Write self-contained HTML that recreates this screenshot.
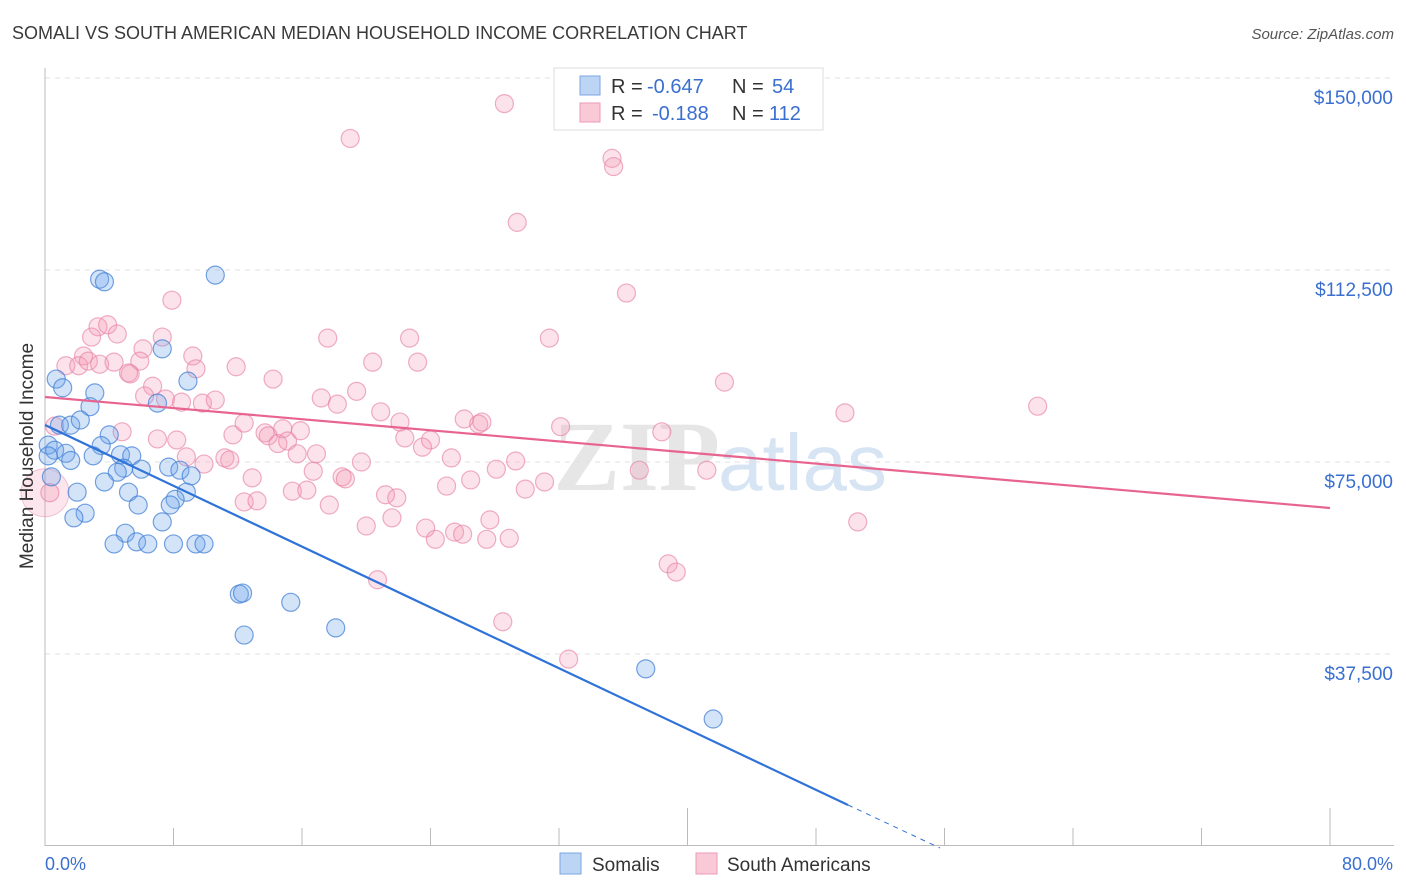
<!DOCTYPE html>
<html><head><meta charset="utf-8"><style>
body{margin:0;background:#fff;font-family:"Liberation Sans",sans-serif;}
#wrap{position:relative;width:1406px;height:892px;overflow:hidden;}
</style></head><body>
<div id="wrap">
<svg id="svg" width="1406" height="892" xmlns="http://www.w3.org/2000/svg">
<text x="12" y="39" font-size="18" fill="#3a3a3a">SOMALI VS SOUTH AMERICAN MEDIAN HOUSEHOLD INCOME CORRELATION CHART</text>
<text x="1394" y="39" font-size="15" fill="#555" font-style="italic" text-anchor="end">Source: ZipAtlas.com</text>
<text x="720" y="490" font-size="100" fill="#e6e6e6" text-anchor="end" font-family="Liberation Serif" font-weight="bold">ZIP</text>
<text x="718" y="490" font-size="80" fill="#d6e4f4">atlas</text>
<g id="grid"></g><g id="pts"></g><g id="lines"></g>
<text x="33" y="456" font-size="19" fill="#333" text-anchor="middle" transform="rotate(-90 33 456)">Median Household Income</text>
<text x="45" y="870" font-size="18" fill="#3a6fd0">0.0%</text>
<text x="1393" y="870" font-size="18" fill="#3a6fd0" text-anchor="end">80.0%</text>
<g>
<rect x="554" y="68" width="269" height="62" fill="#fff" stroke="#ddd"/>
<rect x="580" y="76" width="20" height="19" fill="#bcd5f5" stroke="#7aa6e0"/>
<rect x="580" y="103" width="20" height="19" fill="#f9c9d8" stroke="#ee9ab8"/>
<text x="611" y="93" font-size="20" fill="#333">R =</text>
<text x="647" y="93" font-size="20" fill="#3a6fd0">-0.647</text>
<text x="732" y="93" font-size="20" fill="#333">N =</text>
<text x="772" y="93" font-size="20" fill="#3a6fd0">54</text>
<text x="611" y="120" font-size="20" fill="#333">R =</text>
<text x="652" y="120" font-size="20" fill="#3a6fd0">-0.188</text>
<text x="732" y="120" font-size="20" fill="#333">N =</text>
<text x="769" y="120" font-size="20" fill="#3a6fd0">112</text>
</g>
<g><rect x="560" y="853" width="21" height="21" fill="#bcd5f5" stroke="#7aa6e0"/><text x="592" y="871" font-size="19" fill="#333">Somalis</text></g>
<g><rect x="696" y="853" width="21" height="21" fill="#f9c9d8" stroke="#ee9ab8"/><text x="727" y="871" font-size="19" fill="#333">South Americans</text></g>
</svg></div>
<script>
const yTicks=[37500,75000,112500,150000];
const yTickLabels=["$37,500","$75,000","$112,500","$150,000"];
const xTicks=[0,8,16,24,32,40,48,56,64,72,80];
const blueX=[3.4,3.7,10.6,7.3,8.9,0.7,1.1,3.1,2.8,7.0,0.9,1.6,2.2,4.0,3.5,0.2,0.6,1.3,1.6,3.0,4.7,5.4,4.9,6.0,7.7,8.4,4.5,3.7,9.1,5.2,8.8,2.0,8.1,7.8,5.8,2.5,1.8,7.3,5.0,4.3,5.7,6.4,8.0,9.4,9.9,12.1,12.3,15.3,12.4,18.1,37.4,41.6,0.4,0.2];
const blueY=[110.7,110.2,111.5,97.1,90.8,91.2,89.5,88.5,85.8,86.5,82.2,82.2,83.2,80.3,78.2,78.3,77.3,76.7,75.3,76.2,76.4,76.2,73.8,73.6,74.0,73.4,73.0,71.1,72.3,69.1,69.1,69.1,67.7,66.6,66.6,65.0,64.1,63.3,61.1,59.0,59.4,59.0,59.0,59.0,59.0,49.2,49.4,47.6,41.2,42.6,34.6,24.8,72.1,76.2];
const pinkX=[28.6,19.0,35.3,35.4,29.4,36.2,7.9,3.3,3.9,4.5,2.9,7.3,6.1,17.6,22.7,31.4,2.4,9.2,1.3,2.1,2.7,3.4,4.3,5.9,9.4,11.9,14.2,20.4,23.2,5.3,42.3,6.7,19.4,5.2,6.2,7.5,8.5,9.8,10.6,17.2,18.2,20.9,26.1,27.0,27.2,22.1,49.8,61.8,4.8,7.0,8.2,11.7,12.4,13.7,13.9,14.5,14.8,15.9,15.1,22.4,24.0,23.5,32.1,38.4,9.9,11.2,11.5,8.8,15.7,16.9,12.9,16.7,18.5,18.7,19.7,25.3,28.1,29.3,37.0,41.2,25.0,26.5,31.1,29.9,12.4,13.2,15.4,16.3,17.7,21.2,21.9,21.6,20.0,23.7,24.3,25.5,26.0,27.7,27.5,28.9,50.6,20.7,38.8,39.3,28.5,32.6,0.3,0.6];
const pinkY=[145.0,138.2,134.3,132.7,121.8,108.0,106.6,101.4,101.8,100.0,99.4,99.4,97.1,99.2,99.2,99.2,95.7,95.7,93.8,93.8,94.7,94.1,94.5,94.7,93.2,93.6,91.2,94.5,94.5,92.2,90.6,89.8,88.8,92.4,87.9,87.3,86.7,86.5,87.1,87.5,86.3,84.8,83.4,82.4,82.8,82.8,84.6,85.9,80.9,79.5,79.3,80.3,82.6,80.7,80.1,78.6,81.5,81.1,79.1,79.7,79.3,77.9,81.9,80.9,74.6,75.8,75.4,76.0,76.6,76.6,71.9,73.2,72.1,71.7,75.0,75.8,73.6,75.2,73.4,73.4,70.3,71.5,71.1,69.7,67.2,67.4,69.3,69.5,66.6,68.6,68.0,64.1,62.5,62.1,59.9,61.3,60.9,63.7,59.9,60.1,63.3,52.0,55.1,53.5,43.8,36.5,69.0,82.0];
const X0=45,X1=1330,Y0=846,PXK=192/37500;
const xs=v=>X0+(v/80)*(X1-X0);
const ys=v=>Y0-v*PXK;
const NS="http://www.w3.org/2000/svg";
function mk(t,a,p){const e=document.createElementNS(NS,t);for(const k in a)e.setAttribute(k,a[k]);p.appendChild(e);return e;}
const grid=document.getElementById('grid'),pts=document.getElementById('pts'),lines=document.getElementById('lines');
yTicks.forEach((t,i)=>{
 const l=mk('line',{x1:45,x2:1394,y1:ys(t),y2:ys(t),stroke:'#e2e2e2','stroke-dasharray':'5,5'},grid);
 
 
 const tx=mk('text',{x:1393,y:ys(t)+26,'font-size':19,fill:'#3a6fd0','text-anchor':'end'},grid);
 tx.textContent=yTickLabels[i];
 
 
});
mk('line',{x1:45,x2:45,y1:68,y2:846,stroke:'#bbb'},grid);
mk('line',{x1:45,x2:1394,y1:845.5,y2:845.5,stroke:'#bbb'},grid);
xTicks.forEach((t,i)=>{
 const long=(t===40||t===80);
 const l=mk('line',{x1:xs(t),x2:xs(t),y1:long?808:828,y2:846,stroke:'#bbb'},grid);
 
 
});
mk('circle',{cx:45,cy:ys(69000),r:24,fill:'rgba(244,150,180,0.25)',stroke:'rgba(232,140,170,0.5)'},pts);
pinkX.forEach((x,i)=>{
 const c=mk('circle',{cx:xs(x),cy:ys(pinkY[i]*1000),r:9,fill:'rgba(244,150,180,0.28)',stroke:'rgba(230,130,165,0.65)','stroke-width':1.2},pts);
 
 
});
blueX.forEach((x,i)=>{
 const c=mk('circle',{cx:xs(x),cy:ys(blueY[i]*1000),r:9,fill:'rgba(110,165,235,0.3)',stroke:'rgba(70,130,215,0.75)','stroke-width':1.2},pts);
 
 
});
const bl=mk('line',{x1:45,y1:425,x2:848,y2:805,stroke:'#2f73d8','stroke-width':2.2},lines);


mk('line',{x1:848,y1:805,x2:940,y2:848,stroke:'#2f73d8','stroke-width':1,'stroke-dasharray':'5,5'},lines);
const pl=mk('line',{x1:45,y1:397,x2:1330,y2:508,stroke:'#e8648f','stroke-width':2.2},lines);


</script>
</body></html>
